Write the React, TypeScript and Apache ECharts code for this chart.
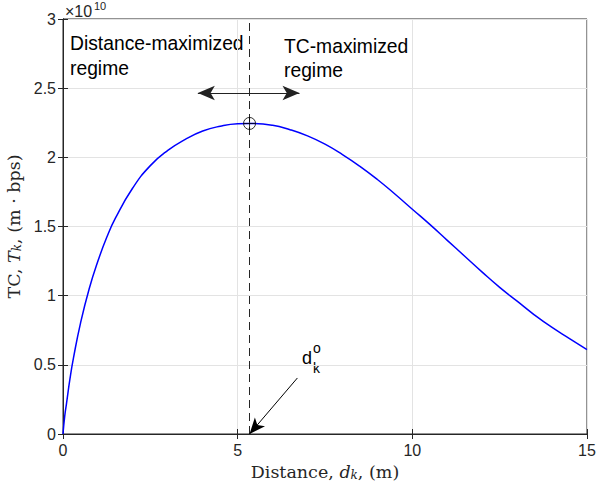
import React, { useEffect, useRef } from 'react';
import * as echarts from 'echarts';

const distances = [0, 0.05, 0.1, 0.2, 0.3, 0.5, 0.75, 1, 1.25, 1.5, 2, 2.5, 3, 3.5, 4, 4.5, 5, 5.34, 6, 6.5, 7, 7.5, 8, 8.5, 9, 9.5, 10, 10.5, 11, 11.5, 12, 12.5, 13, 13.5, 14, 14.5, 15];
const tcValues = [0, 0.13, 0.22, 0.4, 0.55, 0.8, 1.05, 1.25, 1.42, 1.56, 1.78, 1.94, 2.05, 2.13, 2.19, 2.225, 2.243, 2.245, 2.232, 2.2, 2.155, 2.095, 2.02, 1.935, 1.84, 1.735, 1.625, 1.515, 1.4, 1.285, 1.17, 1.06, 0.96, 0.86, 0.77, 0.69, 0.61];
const optimalDistance = 5.34;
const peakTC = 2.245;
const xTicks = [0, 5, 10, 15];
const yTicks = [0, 0.5, 1, 1.5, 2, 2.5, 3];
const regimeArrow = { from: 3.86, to: 6.77, level: 2.465 };
const labelArrowStart = [6.71, 0.405];

const AX = '#262626';
const SANS = 'Liberation Sans, Arial, Helvetica, sans-serif';
const SERIF = 'DejaVu Serif, Liberation Serif, serif';

const circlePlus = 'path://M0,-10 A10,10 0 1,1 0,10 A10,10 0 1,1 0,-10 Z M-10,0 L10,0 M0,-10 L0,10';

export default function App() {
  const ref = useRef<HTMLDivElement>(null);
  useEffect(() => {
    const chart = echarts.init(ref.current!, null, { renderer: 'svg' });
    const tickLabel = { fontSize: 16, fontFamily: SANS, color: AX };
    const serifRich = {
      r: { fontFamily: SERIF, fontSize: 17.5, color: AX },
      i: { fontFamily: SERIF, fontSize: 17.5, fontStyle: 'italic', color: AX },
      s: { fontFamily: SERIF, fontSize: 12, fontStyle: 'italic', color: AX, lineHeight: 7, verticalAlign: 'bottom' },
    };
    const option: any = {
      animation: false,
      backgroundColor: '#fff',
      grid: { left: 63, right: 9, top: 19, bottom: 55, show: true, borderColor: AX, borderWidth: 1, containLabel: false, outerBoundsMode: 'none' },
      xAxis: [
        {
          type: 'value', min: xTicks[0], max: xTicks[xTicks.length - 1], interval: 5, position: 'bottom',
          axisLine: { show: true, lineStyle: { color: AX, width: 1 } },
          axisTick: { show: true, inside: true, length: 5, lineStyle: { color: AX } },
          axisLabel: { ...tickLabel, margin: 8 },
          splitLine: { show: true, lineStyle: { color: '#e3e3e3', width: 1 } },
          name: '{r|Distance, }{i|d}{s|k}{r|, (m)}',
          nameLocation: 'middle', nameGap: 26,
          nameTextStyle: { rich: serifRich },
        },
        {
          type: 'value', min: xTicks[0], max: xTicks[xTicks.length - 1], interval: 5, position: 'top',
          axisLine: { show: true, lineStyle: { color: AX } },
          axisTick: { show: true, inside: true, length: 5, lineStyle: { color: AX } },
          axisLabel: { show: false }, splitLine: { show: false },
        },
      ],
      yAxis: [
        {
          type: 'value', min: yTicks[0], max: yTicks[yTicks.length - 1], interval: 0.5, position: 'left',
          axisLine: { show: true, lineStyle: { color: AX, width: 1 } },
          axisTick: { show: true, inside: true, length: 5, lineStyle: { color: AX } },
          axisLabel: { ...tickLabel, margin: 7 },
          splitLine: { show: true, lineStyle: { color: '#e3e3e3', width: 1 } },
          name: '{r|TC, }{i|T}{s|k}{r|, (m · bps)}',
          nameLocation: 'middle', nameGap: 33, nameRotate: 90,
          nameTextStyle: { rich: serifRich },
        },
        {
          type: 'value', min: yTicks[0], max: yTicks[yTicks.length - 1], interval: 0.5, position: 'right',
          axisLine: { show: true, lineStyle: { color: AX } },
          axisTick: { show: true, inside: true, length: 5, lineStyle: { color: AX } },
          axisLabel: { show: false }, splitLine: { show: false },
        },
      ],
      series: [
        {
          type: 'line',
          data: distances.map((d, i) => [d, tcValues[i]]),
          showSymbol: false,
          smooth: 0.5,
          lineStyle: { color: '#0000ff', width: 1.5 },
          z: 5,
          markLine: {
            silent: true,
            label: { show: false },
            data: [
              [
                { coord: [optimalDistance, 0], symbol: 'none' },
                { coord: [optimalDistance, 3], symbol: 'none', lineStyle: { color: AX, type: [8, 5], width: 1 } },
              ],
              [
                { coord: [regimeArrow.from, regimeArrow.level], symbol: 'arrow', symbolSize: [11, 17] },
                { coord: [regimeArrow.to, regimeArrow.level], symbol: 'arrow', symbolSize: [11, 17], lineStyle: { color: '#222', type: 'solid', width: 1.2 } },
              ],
              [
                { coord: labelArrowStart, symbol: 'none' },
                { coord: [optimalDistance, 0], symbol: 'arrow', symbolSize: [10, 16], lineStyle: { color: '#000', type: 'solid', width: 1 } },
              ],
            ],
          },
        },
        {
          type: 'scatter',
          data: [[optimalDistance, peakTC]],
          symbol: circlePlus,
          symbolSize: 12,
          itemStyle: { color: 'none', borderColor: '#000', borderWidth: 1 },
          z: 6,
        },
      ],
      graphic: [
        { type: 'text', left: 65, top: 3, style: { text: '×10', fontSize: 16, fontFamily: SANS, fill: AX } },
        { type: 'text', left: 94, top: 0, style: { text: '10', fontSize: 11, fontFamily: SANS, fill: AX } },
        { type: 'text', x: 70, y: 43.5, style: { text: 'Distance-maximized', fontSize: 19.3, fontFamily: SANS, fill: '#000', verticalAlign: 'middle' } },
        { type: 'text', x: 70, y: 68.5, style: { text: 'regime', fontSize: 19.3, fontFamily: SANS, fill: '#000', verticalAlign: 'middle' } },
        { type: 'text', x: 284, y: 46, style: { text: 'TC-maximized', fontSize: 19.3, fontFamily: SANS, fill: '#000', verticalAlign: 'middle' } },
        { type: 'text', x: 284, y: 70.5, style: { text: 'regime', fontSize: 19.3, fontFamily: SANS, fill: '#000', verticalAlign: 'middle' } },
        { type: 'text', x: 302, y: 357.5, style: { text: 'd', fontSize: 18, fontFamily: SANS, fill: '#000', verticalAlign: 'middle' } },
        { type: 'text', x: 313, y: 348, style: { text: 'o', fontSize: 14, fontFamily: SANS, fill: '#000', verticalAlign: 'middle' } },
        { type: 'text', x: 313, y: 368, style: { text: 'k', fontSize: 14, fontFamily: SANS, fill: '#000', verticalAlign: 'middle' } },
      ],
    };
    chart.setOption(option);
    return () => chart.dispose();
  }, []);
  return <div ref={ref} style={{ position: 'absolute', left: 0, top: 0, width: 596, height: 489, background: '#fff' }} />;
}
